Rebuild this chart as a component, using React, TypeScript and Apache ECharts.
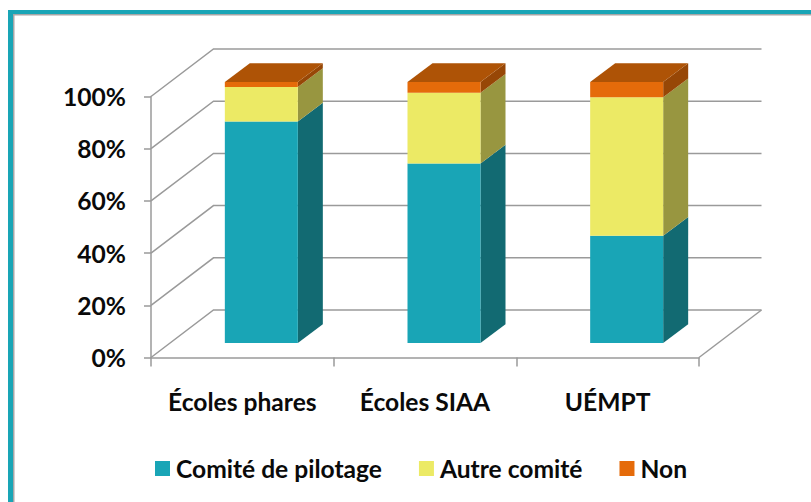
import React, { useEffect, useRef } from "react";
import * as echarts from "echarts";

const categories = ["Écoles phares", "Écoles SIAA", "UÉMPT"];
const comitePilotage = [84.9, 68.8, 41.1];
const autreComite = [13.2, 27.1, 53.1];
const non = [1.9, 4.1, 5.8];
const yTicks = [0, 20, 40, 60, 80, 100];

const FONT = "Lato";
const WALL = { dx: 62.5, dy: -47.5 };
const BAR = { dx: 19, dy: -14.5, width: 73, sideX: 25, sideY: -18.7 };
const LINE = "#9a9a9a";

const stackRows = (values: number[], below: number[]) =>
  values.map((v, i) => [i, below[i], below[i] + v]);

const sum = (a: number[], b: number[]) => a.map((v, i) => v + b[i]);

function barSeries(name: string, rows: number[][], front: string, side: string, top?: string) {
  return {
    type: "custom",
    name,
    data: rows,
    encode: { x: 0, y: [1, 2] },
    itemStyle: { color: front },
    z: 5,
    renderItem: (_: any, api: any) => {
      const cat = api.value(0);
      const a = api.coord([cat, api.value(1)]);
      const b = api.coord([cat, api.value(2)]);
      const l = a[0] + BAR.dx - BAR.width / 2;
      const r = l + BAR.width;
      const y0 = a[1] + BAR.dy;
      const y1 = b[1] + BAR.dy;
      const children: any[] = [
        {
          type: "polygon",
          shape: { points: [[r, y0], [r + BAR.sideX, y0 + BAR.sideY], [r + BAR.sideX, y1 + BAR.sideY], [r, y1]] },
          style: { fill: side },
        },
        {
          type: "polygon",
          shape: { points: [[l, y0], [r, y0], [r, y1], [l, y1]] },
          style: { fill: front },
        },
      ];
      if (top) {
        children.push({
          type: "polygon",
          shape: { points: [[l, y1], [r, y1], [r + BAR.sideX, y1 + BAR.sideY], [l + BAR.sideX, y1 + BAR.sideY]] },
          style: { fill: top },
        });
      }
      return { type: "group", children };
    },
  };
}

export default function App() {
  const ref = useRef<HTMLDivElement>(null);
  useEffect(() => {
    document.body.style.margin = "0";
    document.body.style.background = "#fff";
    const chart = echarts.init(ref.current!, null, { renderer: "svg" });
    const secondBase = sum(comitePilotage, autreComite);
    chart.setOption({
      animation: false,
      backgroundColor: "#ffffff",
      textStyle: { fontFamily: FONT },
      grid: { left: 151, top: 96.5, width: 548, height: 261 },
      xAxis: {
        type: "category",
        data: categories,
        boundaryGap: true,
        axisLine: { lineStyle: { color: LINE, width: 1.5 } },
        axisTick: { show: true, alignWithLabel: false, interval: 0, length: 9, lineStyle: { color: LINE, width: 1.5 } },
        axisLabel: { color: "#0a0a0a", fontFamily: FONT, fontWeight: "bold", fontSize: 24.6, margin: 31, interval: 0, hideOverlap: false },
        splitLine: { show: false },
      },
      yAxis: {
        type: "value",
        min: 0,
        max: 100,
        interval: 20,
        axisLine: { show: true, lineStyle: { color: LINE, width: 1.5 } },
        axisTick: { show: true, length: 7, lineStyle: { color: LINE, width: 1.5 } },
        axisLabel: { color: "#0a0a0a", fontFamily: FONT, fontWeight: "bold", fontSize: 24.6, margin: 25, formatter: "{value}%" },
        splitLine: { show: false },
      },
      legend: {
        left: 150,
        top: 451,
        icon: "rect",
        itemWidth: 15,
        itemHeight: 15,
        itemGap: 37,
        data: ["Comité de pilotage", "Autre comité", "Non"],
        textStyle: { color: "#0a0a0a", fontFamily: FONT, fontWeight: "bold", fontSize: 24.6, padding: [0, 0, 0, 1] },
      },
      graphic: [
        { type: "rect", shape: { x: 8, y: 10, width: 803, height: 5 }, style: { fill: "#19a5b6" }, z: 1 },
        { type: "rect", shape: { x: 8, y: 10, width: 5, height: 492 }, style: { fill: "#19a5b6" }, z: 1 },
        { type: "rect", shape: { x: 13, y: 14, width: 798, height: 1.5 }, style: { fill: "#a6a6a6" }, z: 1 },
        { type: "rect", shape: { x: 13, y: 15, width: 1.5, height: 487 }, style: { fill: "#a6a6a6" }, z: 1 },
      ],
      series: [
        {
          type: "custom",
          data: yTicks.map((t) => [0, t]),
          encode: { x: 0, y: 1 },
          silent: true,
          z: 1,
          renderItem: (_: any, api: any) => {
            const value = api.value(1);
            const yp = api.coord([0, value])[1];
            const size = api.size([1, 0]);
            const x0 = api.coord([0, value])[0] - size[0] / 2;
            const x3 = x0 + size[0] * categories.length;
            const style = { stroke: LINE, lineWidth: 1.5, fill: "none" };
            const children: any[] = [
              {
                type: "polyline",
                shape: { points: [[x0, yp], [x0 + WALL.dx, yp + WALL.dy], [x3 + WALL.dx, yp + WALL.dy]] },
                style,
              },
            ];
            if (value === 0) {
              children.push({
                type: "line",
                shape: { x1: x3, y1: yp, x2: x3 + WALL.dx, y2: yp + WALL.dy },
                style,
              });
            }
            return { type: "group", children };
          },
        },
        barSeries("Comité de pilotage", stackRows(comitePilotage, [0, 0, 0]), "#19a5b6", "#126a72"),
        barSeries("Autre comité", stackRows(autreComite, comitePilotage), "#ecea65", "#989640"),
        barSeries("Non", stackRows(non, secondBase), "#e56b0a", "#974706", "#ae5306"),
      ],
    });
    return () => chart.dispose();
  }, []);
  return <div ref={ref} style={{ width: 811, height: 502 }} />;
}
